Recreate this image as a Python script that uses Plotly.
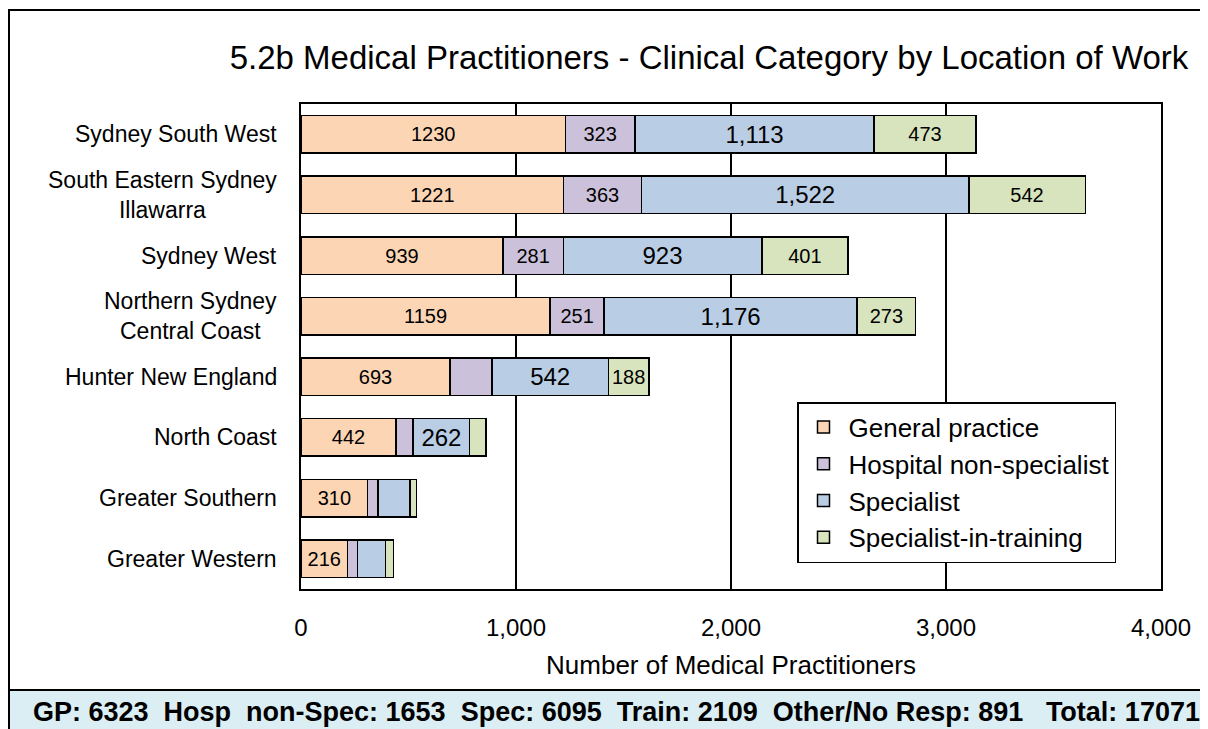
import plotly.graph_objects as go

# Data
regions = ["Sydney South West", "South Eastern Sydney<br>Illawarra", "Sydney West",
           "Northern Sydney<br>Central Coast", "Hunter New England", "North Coast",
           "Greater Southern", "Greater Western"]
general_practice = [1230, 1221, 939, 1159, 693, 442, 310, 216]
hospital_non_spec = [323, 363, 281, 251, 195, 80, 49, 46]
specialist = [1113, 1522, 923, 1176, 542, 262, 147, 132]
spec_in_training = [473, 542, 401, 273, 188, 77, 31, 37]

# which labels are shown on the bars
show_hosp = [True, True, True, True, False, False, False, False]
show_spec = [True, True, True, True, True, True, False, False]
show_train = [True, True, True, True, True, False, False, False]

footer = "GP: 6323  Hosp  non-Spec: 1653  Spec: 6095  Train: 2109  Other/No Resp: 891   Total: 17071"

# page has an 8px body margin, so the figure is a bit smaller than the window
OFF = 8
W, H = 1208 - OFF, 729 - OFF
L, R, T, B = 301 - OFF, 1161 - OFF, 104 - OFF, 589 - OFF

def px_x(x):
    # page x pixel -> paper fraction
    return (x - OFF - L) / (R - L)

def px_y(y):
    return (B - (y - OFF)) / (B - T)

fig = go.Figure()

series = [
    ("General practice", general_practice, "#FCD5B5", [str(v) for v in general_practice], 20),
    ("Hospital non-specialist", hospital_non_spec, "#CCC1DA",
     [str(v) if s else "" for v, s in zip(hospital_non_spec, show_hosp)], 20),
    ("Specialist", specialist, "#B9CDE5",
     [f"{v:,}" if s else "" for v, s in zip(specialist, show_spec)], 24),
    ("Specialist-in-training", spec_in_training, "#D7E4BD",
     [str(v) if s else "" for v, s in zip(spec_in_training, show_train)], 20),
]

for name, vals, col, txt, fs in series:
    fig.add_trace(go.Bar(
        y=regions, x=vals, name=name, orientation="h",
        marker=dict(color=col, line=dict(color="black", width=1.5)),
        text=txt, textposition="inside", insidetextanchor="middle",
        textangle=0, constraintext="none",
        textfont=dict(size=fs, color="black"),
        hoverinfo="x+name",
    ))

fig.update_layout(
    width=W, height=H,
    barmode="stack", bargap=0.38,
    margin=dict(l=L, r=W - R, t=T, b=H - B),
    paper_bgcolor="white", plot_bgcolor="white",
    font=dict(family="Liberation Sans, Arial, sans-serif", color="black"),
    title=dict(text="5.2b Medical Practitioners - Clinical Category by Location of Work",
               x=(709 - OFF) / W, xanchor="center", y=1 - (57 - OFF) / H, yanchor="middle",
               font=dict(size=33, color="black")),
    legend=dict(x=px_x(797), y=px_y(402), xanchor="left", yanchor="top",
                bgcolor="white", bordercolor="black", borderwidth=1.5,
                font=dict(size=26), traceorder="normal", itemwidth=40),
    showlegend=True,
)

fig.update_xaxes(
    range=[0, 4000], dtick=1000, tickformat=",d",
    showgrid=True, gridcolor="black", gridwidth=2,
    showline=True, linecolor="black", linewidth=2, mirror=True,
    ticks="", tickfont=dict(size=24), ticklabelstandoff=16,
    title=dict(text="Number of Medical Practitioners", font=dict(size=26), standoff=16),
    zeroline=False,
)
fig.update_yaxes(
    autorange="reversed", showgrid=False,
    showline=True, linecolor="black", linewidth=2, mirror=True,
    ticks="", showticklabels=False,
)

# category labels, centred lines like the original
for reg in regions:
    fig.add_annotation(text=reg, xref="paper", yref="y", x=0, y=reg,
                       xanchor="right", yanchor="middle", xshift=-22, align="center",
                       showarrow=False, font=dict(size=23, color="black"))

# outer chart frame
fig.add_shape(type="rect", xref="paper", yref="paper",
              x0=px_x(9), x1=px_x(1206), y0=px_y(690), y1=px_y(10),
              line=dict(color="black", width=2), fillcolor="rgba(0,0,0,0)", layer="below")
# footer band
fig.add_shape(type="rect", xref="paper", yref="paper",
              x0=px_x(9), x1=px_x(1212), y0=px_y(740), y1=px_y(690),
              line=dict(color="black", width=2), fillcolor="#DBEEF4", layer="below")
fig.add_annotation(text="<b>" + footer.replace(" ", "\u00a0") + "</b>",
                   xref="paper", yref="paper",
                   x=px_x(616), y=px_y(712), xanchor="center", yanchor="middle",
                   showarrow=False,
                   font=dict(size=27, family="Liberation Sans Narrow, Arial Narrow, sans-serif",
                             color="black"))

fig.write_html("out.html")
